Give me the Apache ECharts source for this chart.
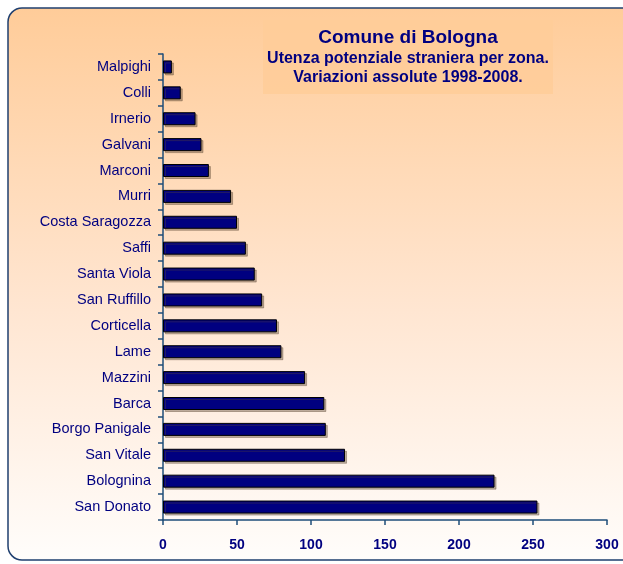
<!DOCTYPE html>
<html>
<head>
<meta charset="utf-8">
<script src="https://cdn.jsdelivr.net/npm/echarts@6/dist/echarts.min.js"></script>
<style>
html,body{margin:0;padding:0;background:#fff;}
#c{width:623px;height:564px;}
</style>
</head>
<body>
<div id="c"></div>
<script>
var categories = ["San Donato","Bolognina","San Vitale","Borgo Panigale","Barca","Mazzini","Lame","Corticella","San Ruffillo","Santa Viola","Saffi","Costa Saragozza","Murri","Marconi","Galvani","Irnerio","Colli","Malpighi"];
var values = [253,224,123,110,109,96,80,77,67,62,56,50,46,31,26,22,12,6];
var xTicks = [0,50,100,150,200,250,300];

var chart = echarts.init(document.getElementById('c'), null, {renderer:'canvas'});
var font = '"Liberation Sans", Arial, sans-serif';
var option = {
  animation:false,
  graphic:[
    {type:'rect', z:-10, shape:{x:8,y:8,width:650,height:552,r:14},
     style:{stroke:'#1f3f6f', lineWidth:1.5,
       fill:{type:'linear',x:0,y:0,x2:0,y2:1,colorStops:[{offset:0,color:'#ffcc99'},{offset:0.55,color:'#ffe6d2'},{offset:1,color:'#fffdfb'}]}}},
    {type:'rect', z:-9, shape:{x:263,y:20,width:290,height:74},
     style:{fill:'#ffcc99', opacity:0.85}}
  ],
  title:[{
    text:'Comune di Bologna',
    left:403, top:23, textAlign:'center',
    textStyle:{fontFamily:font, fontSize:19, fontWeight:'bold', color:'#000080', lineHeight:20}
  },{
    text:'Utenza potenziale straniera per zona.\nVariazioni assolute 1998-2008.',
    left:403, top:44.5, textAlign:'center',
    textStyle:{fontFamily:font, fontSize:16, fontWeight:'bold', color:'#000080', lineHeight:18.5, align:'center'}
  }],
  grid:{left:163, top:54, width:444, height:466, containLabel:false},
  xAxis:{
    type:'value', min:0, max:300, interval:50,
    axisLine:{show:true, lineStyle:{color:'#1f4e79', width:1.5}},
    axisTick:{show:true, length:5, lineStyle:{color:'#1f4e79', width:1.5}},
    splitLine:{show:false},
    axisLabel:{fontFamily:font, fontSize:14, fontWeight:'bold', color:'#000080', margin:18}
  },
  yAxis:{
    type:'category', data:categories, boundaryGap:true,
    axisLine:{show:true, lineStyle:{color:'#1f4e79', width:1.5}},
    axisTick:{show:true, length:5, inside:false, lineStyle:{color:'#1f4e79', width:1.5}},
    axisLabel:{fontFamily:font, fontSize:14.5, color:'#000080', margin:12}
  },
  series:[{
    type:'bar', data:values, barWidth:13,
    itemStyle:{color:'#000080', borderColor:'#000000', borderWidth:1,
      shadowColor:'rgba(90,70,50,0.4)', shadowOffsetX:2, shadowOffsetY:2, shadowBlur:0}
  }]
};
chart.setOption(option);
</script>
</body>
</html>
